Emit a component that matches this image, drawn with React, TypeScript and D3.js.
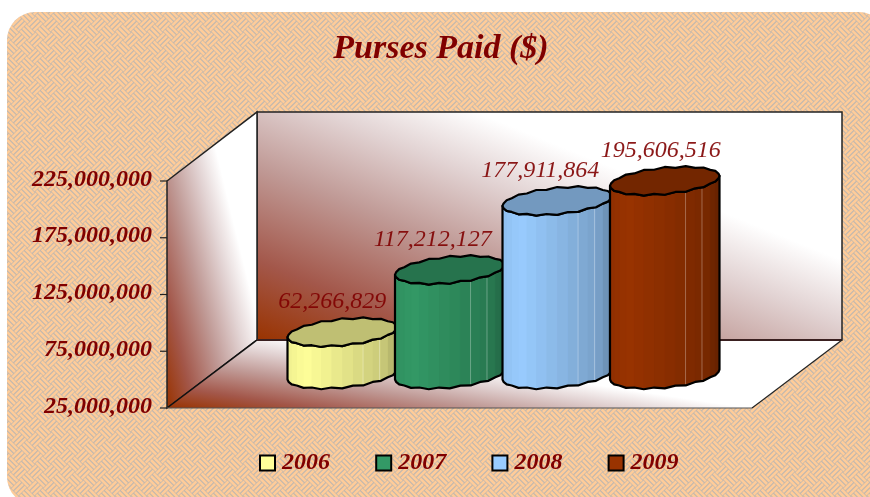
import React from "react";
import * as d3 from "d3";

const years = ["2006", "2007", "2008", "2009"];
const purses = [62266829, 117212127, 177911864, 195606516];
const barColors = ["#ffff99", "#339966", "#99ccff", "#993300"];
const axisTicks = [25000000, 75000000, 125000000, 175000000, 225000000];
const labelShift = [-10, -17, -17, -4];

const TEXT = "#800000";
const FONT = "'Liberation Serif', serif";
const W = 870, H = 497;
const depthX = 90, depthY = 68;
const frontLeft = 167, frontBottom = 408, frontTop = 181, floorRight = 752;

const y = d3.scaleLinear().domain([25000000, 225000000]).range([frontBottom, frontTop]);
const x = d3.scaleBand<string>().domain(years).range([288.5, 718.5]);
const fmt = d3.format(",");
const line = d3.line();
const wallStops: [number, string][] = [
  [0, "#993300"],
  [0.25, "#a3574a"],
  [0.55, "#c09a96"],
  [0.8, "#e2d3d3"],
  [1, "#ffffff"],
];

function weavePath() {
  let d = "";
  const off = [-1, 0, 1];
  for (const s of off) {
    d += `M${4 + 2.67 * s} ${4 - 2.67 * s}L${12 + 2.67 * s} ${12 - 2.67 * s}`;
    for (const [tx, ty] of [[0, 0], [16, 0], [0, 16], [16, 16]]) {
      d += `M${tx - 4 + 2.67 * s} ${ty + 4 + 2.67 * s}L${tx + 4 + 2.67 * s} ${ty - 4 + 2.67 * s}`;
    }
  }
  return d;
}

function rim(cx: number, cy: number, a: number, b: number, from: number, to: number, n: number) {
  const pts: [number, number][] = [];
  for (let i = 0; i <= n; i++) {
    const t = from + ((to - from) * i) / n;
    const wob = i % 2 === 0 ? 0.9 : -0.7;
    pts.push([cx + a * Math.cos(t), cy + (b + wob) * Math.sin(t) - 5 * Math.cos(t)]);
  }
  return pts;
}

function Cylinder({ i }: { i: number }) {
  const a = x.bandwidth() / 2 + 1;
  const b = 13;
  const cx = (x(years[i]) as number) + x.bandwidth() / 2;
  const top = y(purses[i]) - depthY / 2 + 0.5;
  const base = y(25000000) - depthY / 2 + 0.5;
  const n = 16;
  const topFront = rim(cx, top, a, b, Math.PI, 0, n);
  const baseFront = rim(cx, base, a, b, Math.PI, 0, n);
  const color = d3.color(barColors[i]) as d3.RGBColor;
  const shade = (k: number) => d3.rgb(color.r * k, color.g * k, color.b * k).formatHex();
  const body = [...topFront, ...baseFront.slice().reverse()];
  const facets = topFront.slice(0, -1).map((p, k) => {
    const u = (p[0] - (cx - a)) / (2 * a);
    const g = u < 0.12 ? 0.94 + u / 2 : u < 0.85 ? 1 - (u - 0.12) * 0.3 : 0.78 - (u - 0.85) * 0.9;
    return (
      <path
        key={k}
        d={line([p, topFront[k + 1], baseFront[k + 1], baseFront[k]]) as string}
        fill={shade(g)}
        stroke={shade(g)}
        strokeWidth={1}
      />
    );
  });
  const seams = [0.69, 0.84].map((u) => {
    const sx = cx - a + 2 * a * u;
    const th = Math.acos((sx - cx) / a);
    const yT = top + b * Math.sin(th) - 5 * Math.cos(th);
    const yB = base + b * Math.sin(th) - 5 * Math.cos(th);
    return <line key={u} x1={sx} x2={sx} y1={yT} y2={yB} stroke="#fff" strokeOpacity={0.3} strokeWidth={1} />;
  });
  return (
    <g>
      <path d={(line(body) as string) + "Z"} fill={shade(0.85)} />
      {facets}
      {seams}
      <path d={(line(body) as string) + "Z"} fill="none" stroke="#000" strokeWidth={2.2} strokeLinejoin="round" />
      <path
        d={(line(rim(cx, top, a, b, 0, Math.PI * 2, 2 * n)) as string) + "Z"}
        fill={shade(0.75)}
        stroke="#000"
        strokeWidth={2.2}
        strokeLinejoin="round"
      />
      <text
        x={cx + labelShift[i]}
        y={top - 24}
        textAnchor="middle"
        fontFamily={FONT}
        fontStyle="italic"
        fontSize={24}
        fill={TEXT}
        fillOpacity={0.9}
      >
        {fmt(purses[i])}
      </text>
    </g>
  );
}

export default function App() {
  const backL = frontLeft + depthX;
  const backB = frontBottom - depthY;
  const backT = frontTop - depthY - 1;
  const backR = floorRight + depthX;
  const poly = (p: [number, number][]) => (line(p) as string) + "Z";
  const stops = wallStops.map(([o, c]) => <stop key={o} offset={o} stopColor={c} />);
  return (
    <svg width={W} height={H} style={{ position: "fixed", left: 0, top: 0 }}>
      <defs>
        <pattern id="weave" width={16} height={16} patternUnits="userSpaceOnUse" patternTransform="translate(3 8)">
          <rect width={16} height={16} fill="#c2b8ae" />
          <path d={weavePath()} stroke="#ffcc99" strokeWidth={2.5} fill="none" />
        </pattern>
        <linearGradient id="gBack" gradientUnits="userSpaceOnUse" x1={257} y1={340} x2={367} y2={68}>
          {stops}
        </linearGradient>
        <linearGradient id="gLeft" gradientUnits="userSpaceOnUse" x1={167} y1={408} x2={273} y2={382}>
          {stops}
        </linearGradient>
        <linearGradient id="gFloor" gradientUnits="userSpaceOnUse" x1={167} y1={408} x2={180} y2={322}>
          {stops}
        </linearGradient>
      </defs>
      <rect x={7} y={12} width={880} height={493} rx={28} fill="url(#weave)" />
      <text
        x={441}
        y={58}
        textAnchor="middle"
        fontFamily={FONT}
        fontWeight="bold"
        fontStyle="italic"
        fontSize={34}
        fill={TEXT}
      >
        Purses Paid ($)
      </text>

      <rect x={backL} y={backT} width={backR - backL} height={backB - backT} fill="url(#gBack)" stroke="#222" strokeWidth={1.5} />
      <path
        d={poly([[frontLeft, frontTop], [backL, backT], [backL, backB], [frontLeft, frontBottom]])}
        fill="url(#gLeft)"
        stroke="#222"
        strokeWidth={1.5}
      />
      <path
        d={poly([[frontLeft, frontBottom], [backL, backB], [backR, backB], [floorRight, frontBottom]])}
        fill="url(#gFloor)"
        stroke="none"
      />
      <path d={line([[frontLeft, frontBottom], [backL, backB]]) as string} stroke="#111" strokeWidth={1.5} />
      <path d={line([[backL, backB], [backR, backB]]) as string} stroke="#3a2020" strokeWidth={2} />
      <path d={line([[backR, backB], [floorRight, frontBottom]]) as string} stroke="#222" strokeWidth={1.2} />
      <path d={line([[frontLeft, frontBottom], [floorRight, frontBottom]]) as string} stroke="#555" strokeWidth={1.2} />

      {axisTicks.map((t) => (
        <g key={t}>
          <line x1={frontLeft - 7} x2={frontLeft} y1={y(t)} y2={y(t)} stroke="#222" strokeWidth={1.2} />
          <text
            x={152}
            y={y(t) + 4.5}
            textAnchor="end"
            fontFamily={FONT}
            fontWeight="bold"
            fontStyle="italic"
            fontSize={24}
            fill={TEXT}
          >
            {fmt(t)}
          </text>
        </g>
      ))}

      {years.map((_, i) => (
        <Cylinder key={i} i={i} />
      ))}

      {years.map((yr, i) => {
        const lx = 260 + i * 116.2;
        return (
          <g key={yr}>
            <rect x={lx} y={455.5} width={15} height={15} fill={barColors[i]} stroke="#000" strokeWidth={2} />
            <text
              x={lx + 22}
              y={469}
              fontFamily={FONT}
              fontWeight="bold"
              fontStyle="italic"
              fontSize={24}
              fill={TEXT}
            >
              {yr}
            </text>
          </g>
        );
      })}
    </svg>
  );
}
